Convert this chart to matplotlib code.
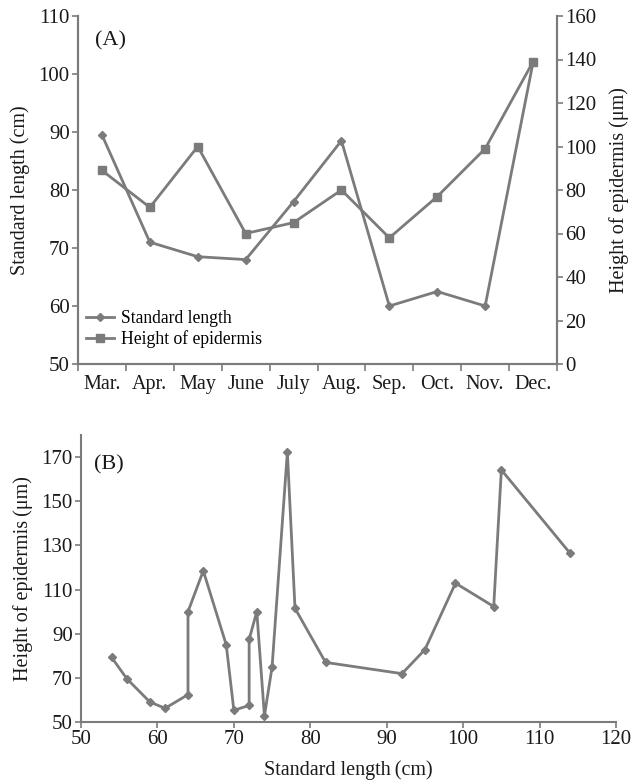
import matplotlib
matplotlib.use("Agg")
import matplotlib.pyplot as plt
from matplotlib.ticker import FixedLocator, NullFormatter

plt.rcParams['font.family'] = ['Liberation Serif', 'DejaVu Serif']

# ---- Data panel A ----
months = ["Mar.", "Apr.", "May", "June", "July", "Aug.", "Sep.", "Oct.", "Nov.", "Dec."]
standard_length = [89.5, 71.0, 68.5, 68.0, 78.0, 88.5, 60.0, 62.5, 60.0, 102.0]
epidermis_height = [89, 72, 100, 60, 65, 80, 58, 77, 99, 139]

# ---- Data panel B ----
b_length = [54, 56, 59, 61, 64, 64, 66, 69, 70, 72, 72, 73, 74, 75, 77, 78, 82, 92, 95, 99, 104, 105, 114]
b_height = [79.3, 69.6, 59.1, 56.2, 62.4, 100, 118.5, 85, 55.3, 57.5, 87.4, 100, 52.8, 74.9, 172.4, 101.5,
            77.0, 71.9, 82.8, 112.9, 102.3, 164.2, 126.4]

GRAY = '#7b7b7b'
TXT = '#1a1a1a'
TICK_FS = 15
LAB_FS = 14.5
MON_FS = 14.5

fig = plt.figure(figsize=(6.34, 7.81), dpi=100)

# ---------- Panel A ----------
axA = fig.add_axes([78/634, 1-364/781, (557-78)/634, (364-16)/781])
axA2 = axA.twinx()
x = list(range(len(months)))
l1, = axA.plot(x, standard_length, color=GRAY, lw=2, marker='D', ms=4.5, label='Standard length')
l2, = axA2.plot(x, epidermis_height, color=GRAY, lw=2, marker='s', ms=6, label='Height of epidermis')
axA.set_xlim(-0.5, len(months)-0.5)
axA.set_ylim(50, 110)
axA2.set_ylim(0, 160)
axA.set_yticks(range(50, 111, 10))
axA2.set_yticks(range(0, 161, 20))
axA.xaxis.set_major_locator(FixedLocator([i-0.5 for i in range(len(months)+1)]))
axA.xaxis.set_major_formatter(NullFormatter())
axA.xaxis.set_minor_locator(FixedLocator(x))
axA.set_xticklabels(months, minor=True)
axA.tick_params(axis='x', which='minor', length=0, pad=8, labelsize=MON_FS, colors=TXT)
axA.tick_params(axis='x', which='major', length=5, width=1.2, color=GRAY)
axA.tick_params(axis='y', length=4, width=1.2, color=GRAY, labelsize=TICK_FS, labelcolor=TXT, pad=2)
axA2.tick_params(axis='y', length=4, width=1.2, color=GRAY, labelsize=TICK_FS, labelcolor=TXT, pad=2)
for ax in (axA, axA2):
    ax.spines['top'].set_visible(False)
    for s in ('left', 'right', 'bottom'):
        ax.spines[s].set_color(GRAY)
        ax.spines[s].set_linewidth(1.5)
axA.set_ylabel('Standard length (cm)', fontsize=LAB_FS, color=TXT, labelpad=6)
axA2.set_ylabel('Height of epidermis (μm)', fontsize=LAB_FS, color=TXT, labelpad=9)
axA.text(0.035, 0.955, '(A)', transform=axA.transAxes, fontsize=16, color=TXT, va='top')
axA.legend(handles=[l1, l2], loc='lower left', bbox_to_anchor=(-0.005, 0.015), frameon=False,
           fontsize=12.7, handlelength=1.6, handletextpad=0.4, labelspacing=0.2, borderaxespad=0.2)

# ---------- Panel B ----------
axB = fig.add_axes([81/634, 1-722/781, (616-81)/634, (722-435)/781])
axB.plot(b_length, b_height, color=GRAY, lw=2, marker='D', ms=4.5)
axB.set_xlim(50, 120)
axB.set_ylim(50, 180)
axB.set_xticks(range(50, 121, 10))
axB.set_yticks(range(50, 171, 20))
axB.tick_params(length=4, width=1.2, color=GRAY, labelsize=TICK_FS, labelcolor=TXT, pad=2)
axB.spines['top'].set_visible(False)
axB.spines['right'].set_visible(False)
for s in ('left', 'bottom'):
    axB.spines[s].set_color(GRAY)
    axB.spines[s].set_linewidth(1.5)
axB.set_xlabel('Standard length\u2009(cm)', fontsize=LAB_FS, color=TXT, labelpad=8)
axB.set_ylabel('Height of epidermis\u2009(μm)', fontsize=LAB_FS, color=TXT, labelpad=6)
axB.text(0.025, 0.93, '(B)', transform=axB.transAxes, fontsize=16, color=TXT, va='top')

fig.savefig('out.png', dpi=100)
